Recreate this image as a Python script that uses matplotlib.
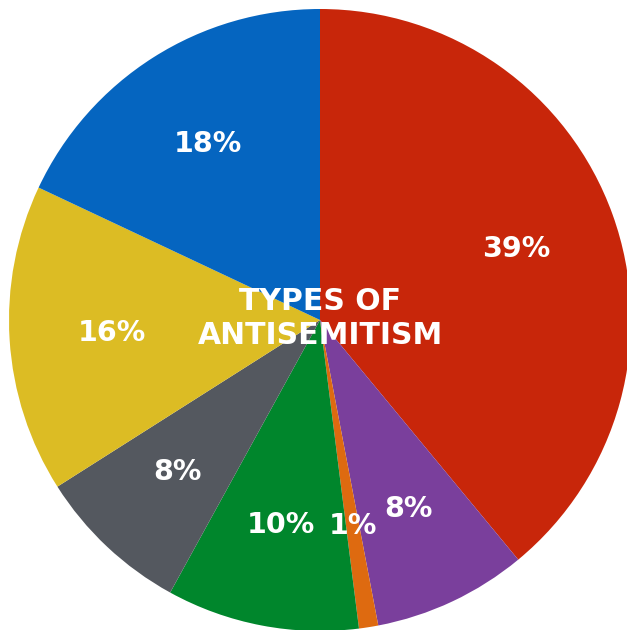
import matplotlib
matplotlib.use("Agg")
import matplotlib.pyplot as plt
import numpy as np

categories = ["Red", "Purple", "Orange", "Green", "Gray", "Yellow", "Blue"]
values = [39, 8, 1, 10, 8, 16, 18]
labels = ["39%", "8%", "1%", "10%", "8%", "16%", "18%"]
colors = ["#C8260A", "#7A3F9C", "#DE6A10", "#00862C", "#54585F", "#DCBC24", "#0565C0"]
center_title = "TYPES OF\nANTISEMITISM"

W, H = 627, 630
cx, cy, R = 320, 320, 311

fig = plt.figure(figsize=(W / 100, H / 100), dpi=100)
ax = fig.add_axes([0, 0, 1, 1])
wedges, _ = ax.pie(values, colors=colors, startangle=90, counterclock=False,
                   radius=1, wedgeprops=dict(linewidth=0))
total = sum(values)
cum = 0
for v, lab in zip(values, labels):
    mid = 90 - (cum + v / 2) / total * 360
    cum += v
    r = 0.67
    ax.text(r * np.cos(np.radians(mid)), r * np.sin(np.radians(mid)), lab,
            ha="center", va="center", color="white", fontsize=20.5,
            fontweight="bold", family="DejaVu Sans")
ax.text(0, 0.005, center_title, ha="center", va="center", color="white",
        fontsize=21.5, fontweight="bold", family="DejaVu Sans", linespacing=1.25)
ax.set_xlim(-cx / R, (W - cx) / R)
ax.set_ylim(-(H - cy) / R, cy / R)
ax.set_aspect("auto")
ax.axis("off")
fig.savefig("out.png", dpi=100)
